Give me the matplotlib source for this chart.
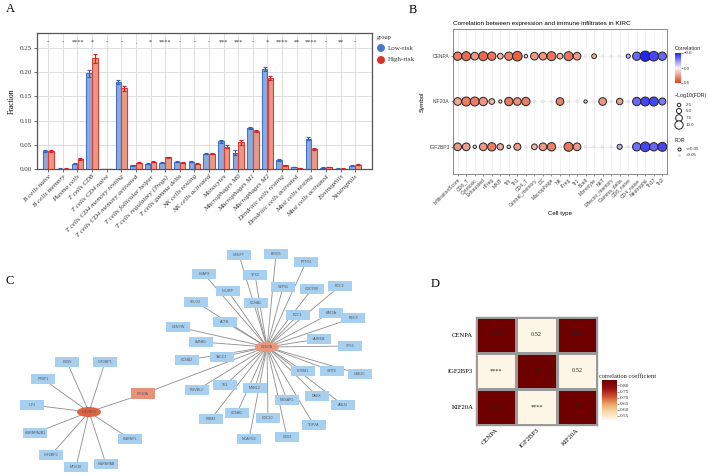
import numpy as np
import matplotlib
matplotlib.use("Agg")
import matplotlib.pyplot as plt
from matplotlib.colors import LinearSegmentedColormap, Normalize
from matplotlib.patches import Rectangle, Ellipse
from matplotlib.lines import Line2D

SERIF = "Liberation Serif"
SANS = "Liberation Sans"

# ---------------- Panel A data ----------------
cells_A = ["B cells naive", "B cells memory", "Plasma cells", "T cells CD8", "T cells CD4 naive",
           "T cells CD4 memory resting", "T cells CD4 memory activated", "T cells follicular helper",
           "T cells regulatory (Tregs)", "T cells gamma delta", "NK cells resting", "NK cells activated",
           "Monocytes", "Macrophages M0", "Macrophages M1", "Macrophages M2", "Dendritic cells resting",
           "Dendritic cells activated", "Mast cells resting", "Mast cells activated", "Eosinophils", "Neutrophils"]
low_risk = [0.038, 0.001, 0.011, 0.198, 0.000, 0.179, 0.008, 0.011, 0.013, 0.015, 0.015, 0.032,
            0.057, 0.034, 0.084, 0.207, 0.019, 0.004, 0.063, 0.003, 0.001, 0.007]
high_risk = [0.038, 0.001, 0.021, 0.229, 0.000, 0.167, 0.013, 0.015, 0.024, 0.013, 0.011, 0.032,
             0.046, 0.055, 0.078, 0.188, 0.008, 0.002, 0.042, 0.004, 0.001, 0.009]
low_err = [0.002, 0.0003, 0.0015, 0.007, 0.0001, 0.004, 0.001, 0.001, 0.0012, 0.0012, 0.0015, 0.0015,
           0.003, 0.005, 0.002, 0.004, 0.002, 0.0007, 0.0025, 0.0004, 0.0003, 0.001]
high_err = [0.002, 0.0003, 0.002, 0.009, 0.0001, 0.005, 0.0015, 0.0012, 0.0015, 0.0012, 0.0012, 0.0018,
            0.003, 0.005, 0.002, 0.005, 0.001, 0.0005, 0.002, 0.0008, 0.0002, 0.0015]
sig_A = ["-", "-", "****", "*", "-", "-", ".", "*", "****", "-", "-", "-", "***", "***", "-", "*",
         "****", "**", "****", "-", "**", "-"]

# ---------------- Panel B data ----------------
genes_B = ["CENPA", "KIF20A", "IGF2BP3"]
celltypes_B = ["InfiltrationScore", "CD8_T", "Cytotoxic", "Exhausted", "nTreg", "MAIT", "Tfh", "Th1",
               "CD4_T", "Central_memory", "DC", "Macrophage", "NK", "iTreg", "Tr1", "Bcell", "Monocyte",
               "NKT", "Effector_memory", "Gamma_delta", "CD8_naive", "CD4_naive", "Neutrophil", "Th17", "Th2"]
corr_CENPA = [0.40, 0.45, 0.30, 0.45, 0.42, 0.20, 0.38, 0.48, 0.05, 0.30, 0.32, 0.42, 0.20, 0.42, 0.30,
              0.02, 0.20, 0.03, 0.03, 0.03, -0.15, -0.40, -0.60, -0.50, -0.40]
logfdr_CENPA = [10, 11, 9, 11, 10, 6, 10, 12, 2.5, 9, 9, 11, 6, 11, 9, 0.4, 4.5, 0.4, 0.5, 0.5, 3.5,
                10, 13, 12, 10]
corr_KIF20A = [0.25, 0.40, 0.40, 0.30, 0.20, 0.05, 0.40, 0.32, 0.38, 0.02, 0.02, 0.02, 0.38, 0.02, 0.02,
               0.06, 0.02, 0.30, 0.02, 0.28, -0.05, -0.40, -0.50, -0.50, -0.35]
logfdr_KIF20A = [9, 11, 11, 10, 6, 2.2, 10, 9, 10, 0.4, 0.4, 0.4, 9, 0.5, 0.4, 2.3, 0.5, 9, 0.5, 7, 0.5,
                 10, 11, 11, 8]
corr_IGF2BP3 = [0.30, 0.28, 0.05, 0.30, 0.40, 0.25, 0.08, 0.30, 0.02, 0.20, 0.30, 0.38, 0.02, 0.42, 0.30,
                0.02, 0.03, 0.02, 0.02, -0.18, -0.03, -0.38, -0.50, -0.40, -0.50]
logfdr_IGF2BP3 = [9, 9, 2.3, 9, 10, 7, 2.5, 8, 0.4, 6, 9, 10, 0.4, 11, 9, 0.4, 0.5, 0.4, 0.5, 5, 0.5,
                  10, 12, 10, 11]

# ---------------- Panel C data (network layout) ----------------
hub_names = ["CENPA", "IGF2BP3", "KIF20A"]
hub_pos = [(267, 347), (89, 412), (143, 394)]
cenpa_leaves = ["CENPT", "BIRC5", "PTTG1", "H2AFX", "TPX2", "HJURP", "CEP55", "CDC25B", "RCC2", "CCNA2",
                "TELO2", "RCC1", "KAT2A", "REC8", "ACTB", "CENPW", "LMNB1", "AURKB", "TP53", "CCNB2",
                "TACC3", "FOXM1", "SIRT6", "UBE2C", "RUVBL2", "TK1", "MYBL2", "DAXX", "ANLN", "NUSAP1",
                "CCNB1", "RRM2", "CDC20", "TOP2A", "NCAPG2", "CBX3"]
cenpa_leaf_pos = [(239, 255), (276, 254), (306, 262), (204, 274), (255, 275), (228, 291), (283, 287),
                  (312, 289), (340, 286), (256, 303), (196, 302), (298, 315), (331, 313), (353, 318),
                  (225, 322), (178, 327), (201, 342), (319, 339), (350, 346), (187, 360), (222, 357),
                  (303, 371), (332, 371), (360, 374), (197, 390), (225, 385), (255, 388), (317, 396),
                  (343, 405), (287, 400), (237, 413), (211, 419), (268, 418), (314, 425), (249, 439),
                  (287, 437)]
igf_leaves = ["DDX5", "IGF2BP1", "PTBP1", "ILF3", "HNRNPA2B1", "IGF2BP2", "MOV10", "HNRNPAB", "HNRNPL"]
igf_leaf_pos = [(67, 362), (105, 362), (43, 379), (32, 405), (35, 433), (51, 455), (76, 467), (106, 464),
                (130, 439)]

# ---------------- Panel D data ----------------
genes_D = ["CENPA", "IGF2BP3", "KIF20A"]
corr_D = [[1.00, 0.52, 0.85],
          [0.52, 1.00, 0.52],
          [0.85, 0.52, 1.00]]
lower_D = [["", "", ""], ["****", "", ""], ["****", "****", ""]]

W, H = 708, 475
fig = plt.figure(figsize=(W / 100, H / 100), dpi=100)


def px_axes(x0, y0, x1, y1):
    return fig.add_axes([x0 / W, 1 - y1 / H, (x1 - x0) / W, (y1 - y0) / H])


# ================= Panel A =================
axA = px_axes(37, 33, 372, 169)
xa = np.arange(len(cells_A))
bw = 0.38
blue_fill, blue_edge = "#8ea9db", "#4472c4"
red_fill, red_edge = "#e69a86", "#de3b35"
axA.bar(xa - 0.2, low_risk, bw, color=blue_fill, edgecolor=blue_edge, linewidth=0.8, zorder=3)
axA.bar(xa + 0.2, high_risk, bw, color=red_fill, edgecolor=red_edge, linewidth=0.8, zorder=3)
axA.errorbar(xa - 0.2, low_risk, yerr=low_err, fmt="none", ecolor="#2f5fc0", elinewidth=0.8,
             capsize=1.2, capthick=0.8, zorder=4)
axA.errorbar(xa + 0.2, high_risk, yerr=high_err, fmt="none", ecolor="#d62020", elinewidth=0.8,
             capsize=1.2, capthick=0.8, zorder=4)
for i, s in enumerate(sig_A):
    axA.text(xa[i], 0.262, s, ha="center", va="center", fontsize=4.5, family=SERIF, color="#333")
axA.set_xlim(-0.77, 22.15)
axA.set_ylim(0, 0.281)
axA.set_yticks([0, 0.05, 0.10, 0.15, 0.20, 0.25])
axA.set_yticklabels(["0.00", "0.05", "0.10", "0.15", "0.20", "0.25"], family=SERIF, fontsize=5)
axA.set_xticks(xa)
axA.set_xticklabels(cells_A, rotation=45, ha="right", rotation_mode="anchor", family=SERIF,
                    fontsize=5, style="italic")
axA.tick_params(axis="both", length=2, width=0.5, pad=1.5, colors="#333")
axA.set_ylabel("Fraction", family=SERIF, fontsize=5.5, labelpad=3)
axA.grid(True, color="#d9d9d9", linewidth=0.6, zorder=0)
axA.set_axisbelow(True)
for sp in axA.spines.values():
    sp.set_color("#555555")
    sp.set_linewidth(0.9)

# ================= Panel B =================
axB = px_axes(453, 29, 667, 174)
cmapB = LinearSegmentedColormap.from_list("b", ["#2424f5", "#f6f2f2", "#e5401c"])
normB = Normalize(-0.6, 0.6)
rows = [corr_CENPA, corr_KIF20A, corr_IGF2BP3]
rows_l = [logfdr_CENPA, logfdr_KIF20A, logfdr_IGF2BP3]
xb = np.arange(1, len(celltypes_B) + 1)


def size_of(v):
    return (1.3 + 0.47 * np.asarray(v)) ** 2


for gi, (c, l) in enumerate(zip(rows, rows_l)):
    yv = 3 - gi
    c = np.asarray(c)
    l = np.asarray(l, dtype=float)
    sigm = l >= 1.301
    axB.scatter(xb[sigm], np.full(sigm.sum(), yv), s=size_of(l[sigm]), c=c[sigm], cmap=cmapB, norm=normB,
                edgecolors="#222222", linewidths=0.7, zorder=3)
    axB.scatter(xb[~sigm], np.full((~sigm).sum(), yv), s=size_of(l[~sigm]) + 1.5, c=c[~sigm], cmap=cmapB,
                norm=normB, edgecolors="#cfcfd8", linewidths=0.4, alpha=0.8, zorder=3)
axB.set_xlim(0.45, 25.55)
axB.set_ylim(0.4, 3.6)
axB.set_xticks(xb)
axB.set_xticklabels(celltypes_B, rotation=45, ha="right", rotation_mode="anchor", family=SANS,
                    fontsize=3.6, color="#333")
axB.set_yticks([3, 2, 1])
axB.set_yticklabels(genes_B, family=SANS, fontsize=3.6, color="#333")
axB.tick_params(axis="both", length=1.5, width=0.4, pad=1, colors="#444")
axB.grid(True, color="#ececec", linewidth=0.5, zorder=0)
axB.set_axisbelow(True)
for sp in axB.spines.values():
    sp.set_color("#8a8a8a")
    sp.set_linewidth(0.7)
axB.set_xlabel("Cell type", family=SANS, fontsize=4.4, labelpad=2)
axB.set_ylabel("Symbol", family=SANS, fontsize=4.4, labelpad=3)
axB.set_title("Correlation between expression and immune infiltrates in KIRC", family=SANS,
              fontsize=4.6, loc="left", pad=3)

caxB = px_axes(675, 53, 681, 83)
sm = plt.cm.ScalarMappable(norm=normB, cmap=cmapB)
cbB = fig.colorbar(sm, cax=caxB, ticks=[-0.6, 0.0, 0.6])
cbB.ax.invert_yaxis()
cbB.ax.set_yticklabels(["\u22120.6", "0.0", "0.6"], family=SANS, fontsize=3.2)
cbB.ax.tick_params(length=1.2, width=0.4, pad=1, colors="#333")
cbB.outline.set_visible(False)

# ================= Panel C =================
axC = px_axes(0, 240, 372, 475)
axC.set_xlim(0, 372)
axC.set_ylim(475, 240)
axC.axis("off")
hub = dict(zip(hub_names, hub_pos))
edges = [(hub["CENPA"], p) for p in cenpa_leaf_pos] + [(hub["IGF2BP3"], p) for p in igf_leaf_pos]
edges += [(hub["KIF20A"], hub["CENPA"]), (hub["KIF20A"], hub["IGF2BP3"])]
for a, b in edges:
    axC.plot([a[0], b[0]], [a[1], b[1]], color="#8c8c8c", linewidth=0.6, zorder=1)
leaf_color = "#a6cff0"
for name, (x, y) in list(zip(cenpa_leaves, cenpa_leaf_pos)) + list(zip(igf_leaves, igf_leaf_pos)):
    axC.add_patch(Rectangle((x - 12, y - 5), 24, 10, facecolor=leaf_color, edgecolor="none", zorder=2))
    axC.text(x, y, name, ha="center", va="center", fontsize=2.6, family=SANS, color="#555", zorder=3)
hx, hy = hub["CENPA"]
axC.add_patch(Ellipse((hx, hy), 24, 10, facecolor="#e9967a", edgecolor="none", zorder=2))
axC.text(hx, hy, "CENPA", ha="center", va="center", fontsize=2.6, family=SANS, color="#555", zorder=3)
hx, hy = hub["IGF2BP3"]
axC.add_patch(Ellipse((hx, hy), 24, 10, facecolor="#e1623f", edgecolor="none", zorder=2))
axC.text(hx, hy, "IGF2BP3", ha="center", va="center", fontsize=2.6, family=SANS, color="#555", zorder=3)
hx, hy = hub["KIF20A"]
axC.add_patch(Rectangle((hx - 12, hy - 5.5), 24, 11, facecolor="#e8917a", edgecolor="none", zorder=2))
axC.text(hx, hy, "KIF20A", ha="center", va="center", fontsize=2.6, family=SANS, color="#555", zorder=3)

# ================= Panel D =================
axD = px_axes(476, 317, 597, 425)
cmapD = LinearSegmentedColormap.from_list("d", ["#fdf7ea", "#f6dcaa", "#e9a463", "#cc4a2c", "#921010",
                                                "#6e0000"])
normD = Normalize(0.517, 0.845)
M = np.array(corr_D)
meshD = axD.pcolormesh(np.arange(4), np.arange(4), M, cmap=cmapD, norm=normD, edgecolors="#9a9a9a",
                       linewidth=1.0)
axD.set_xlim(0, 3)
axD.set_ylim(3, 0)
for i in range(3):
    for j in range(3):
        txt = f"{M[i, j]:.2f}" if j >= i else lower_D[i][j]
        axD.text(j + 0.5, i + 0.5, txt, ha="center", va="center", fontsize=4.5, family=SERIF,
                 color="#222")
axD.set_xticks(np.arange(3) + 0.5)
axD.set_xticklabels(genes_D, rotation=45, ha="right", rotation_mode="anchor", family=SERIF, fontsize=4.8)
axD.set_yticks(np.arange(3) + 0.5)
axD.set_yticklabels(genes_D, family=SERIF, fontsize=4.8)
axD.tick_params(length=0, pad=2)
for sp in axD.spines.values():
    sp.set_color("#9a9a9a")
    sp.set_linewidth(1.0)

caxD = px_axes(602, 380, 617, 420)
cbD = fig.colorbar(meshD, cax=caxD, ticks=[0.55, 0.60, 0.65, 0.70, 0.75, 0.80])
cbD.ax.set_yticklabels(["0.55", "0.60", "0.65", "0.70", "0.75", "0.80"], family=SERIF, fontsize=3.8)
cbD.ax.tick_params(length=1.5, width=0.4, pad=0.8, colors="#333")
cbD.outline.set_visible(False)

# ================= Overlay (panel letters, manual legends) =================
ov = fig.add_axes([0, 0, 1, 1])
ov.set_xlim(0, W)
ov.set_ylim(H, 0)
ov.axis("off")
for lab, x, y in [("A", 6, 9), ("B", 409, 10), ("C", 6, 281), ("D", 431, 284)]:
    ov.text(x, y, lab, family=SERIF, fontsize=9, ha="left", va="center")

# legend A
ov.text(377, 37, "group", family=SERIF, fontsize=4.5, ha="left", va="center", color="#333")
ov.scatter([381, 381], [48, 60], s=[22, 22], c=["#4a78c8", "#d93030"], marker="o", zorder=5)
ov.text(388, 48, "Low-risk", family=SERIF, fontsize=5, ha="left", va="center", color="#333")
ov.text(388, 60, "High-risk", family=SERIF, fontsize=5, ha="left", va="center", color="#333")

# legend B
ov.text(675, 48, "Correlation", family=SANS, fontsize=3.8, ha="left", va="center", color="#222")
ov.text(675, 96, "\u2212Log10(FDR)", family=SANS, fontsize=3.8, ha="left", va="center", color="#222")
leg_vals = [2.5, 5.0, 7.5, 10.0]
leg_y = [105, 111, 118, 125]
ov.scatter([679] * 4, leg_y, s=size_of(leg_vals), facecolors="white", edgecolors="#222", linewidths=0.7)
for v, yy in zip(leg_vals, leg_y):
    ov.text(686, yy, f"{v:.1f}", family=SANS, fontsize=3.2, ha="left", va="center", color="#333")
ov.text(675, 141, "FDR", family=SANS, fontsize=3.8, ha="left", va="center", color="#222")
ov.scatter([679], [149], s=size_of([2.0]), facecolors="white", edgecolors="#222", linewidths=0.7)
ov.scatter([679], [155], s=size_of([0.5]), facecolors="#e0dde6", edgecolors="#cfcfd8", linewidths=0.4)
ov.text(686, 149, "<=0.05", family=SANS, fontsize=3.2, ha="left", va="center", color="#333")
ov.text(686, 155, ">0.05", family=SANS, fontsize=3.2, ha="left", va="center", color="#333")

# legend D title
ov.text(599, 376, "correlation coefficient", family=SERIF, fontsize=4.6, ha="left", va="center",
        color="#222")

fig.savefig("out.png", dpi=100)
